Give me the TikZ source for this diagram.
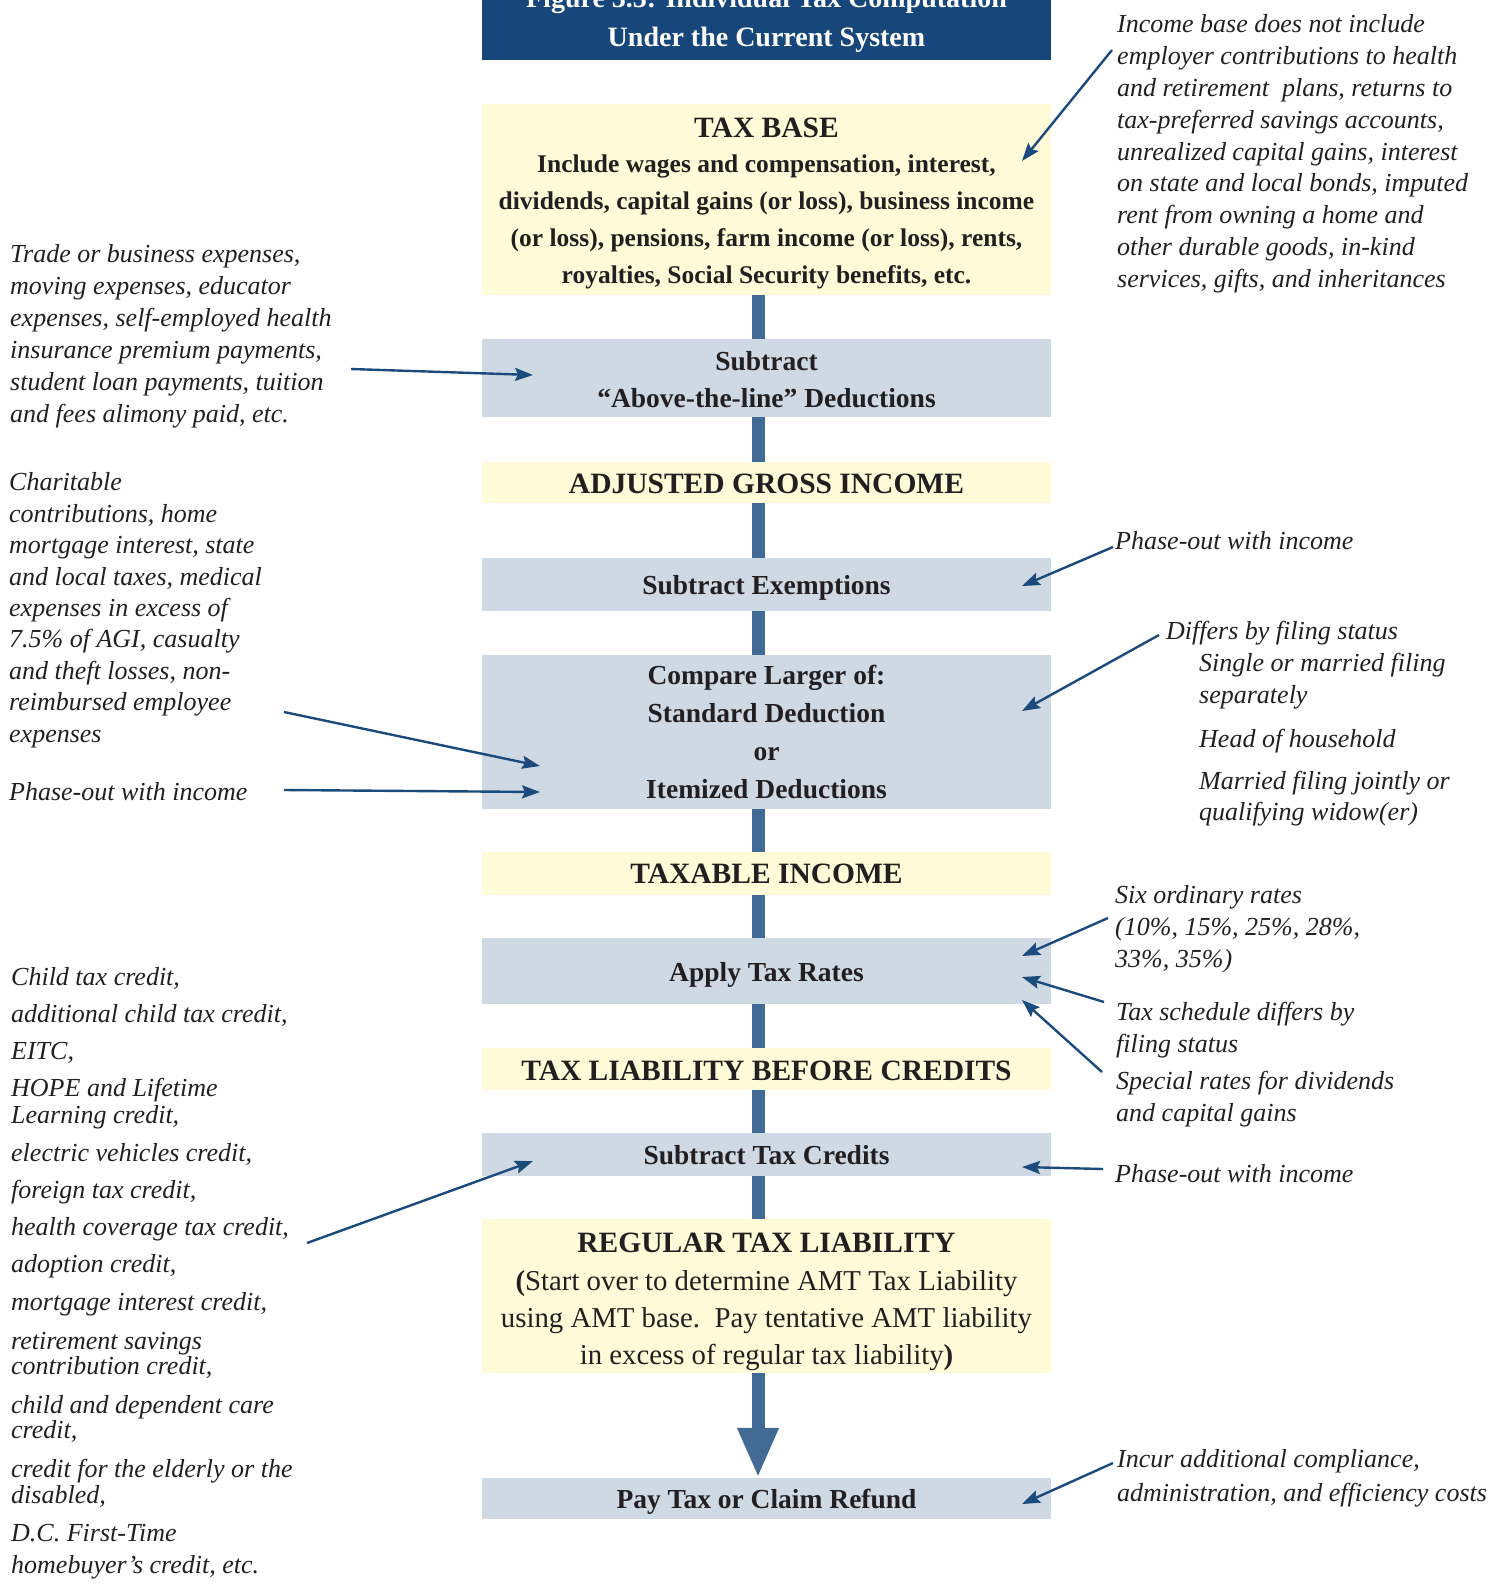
\documentclass[tikz,border=0pt]{standalone}
\usepackage{fontspec}
\setmainfont{Liberation Serif}
\usetikzlibrary{arrows.meta}
\definecolor{titleblue}{RGB}{22,70,122}
\definecolor{greybox}{RGB}{207,217,228}
\definecolor{yellowbox}{RGB}{255,250,215}
\definecolor{barblue}{RGB}{66,106,148}
\definecolor{arrowblue}{RGB}{27,74,124}
\definecolor{ink}{RGB}{35,31,32}
\begin{document}
\begin{tikzpicture}[x=1pt,y=-1pt,
  box/.style={draw=none,inner sep=0pt,minimum width=569pt},
  ybox/.style={box,fill=yellowbox},
  gbox/.style={box,fill=greybox},
  tbox/.style={box,fill=titleblue},
  ttl/.style={inner sep=0pt,anchor=base,text=white,font=\fontsize{28}{32}\selectfont\bfseries},
  hdr/.style={inner sep=0pt,anchor=base,text=ink,font=\fontsize{29.5}{32}\selectfont\bfseries},
  stp/.style={inner sep=0pt,anchor=base,text=ink,font=\fontsize{27.5}{32}\selectfont\bfseries},
  bdy/.style={inner sep=0pt,anchor=base,text=ink,font=\fontsize{25.5}{32}\selectfont\bfseries},
  rbody/.style={inner sep=0pt,anchor=base,text=ink,font=\fontsize{28.8}{32}\selectfont},
  ann/.style={inner sep=0pt,anchor=base west,text=ink,font=\fontsize{26}{32}\selectfont\itshape},
  bar/.style={draw=barblue,line width=13pt},
  bigarrow/.style={draw=barblue,fill=barblue,line width=13pt,-{Triangle[length=50pt,width=38pt]}},
  pointer/.style={draw=arrowblue,line width=2.4pt,-{Stealth[length=18pt,width=13pt,inset=3pt]}},
]
\useasboundingbox (0,0) rectangle (1502,1585);
\clip (0,0) rectangle (1502,1585);

% ---------- boxes ----------
\node[tbox,minimum height=80pt] (title) at (766.5,20) {};
\node[ybox,minimum height=191pt] (tb)  at (766.5,199.5) {};
\node[gbox,minimum height=78pt]  (sub) at (766.5,378) {};
\node[ybox,minimum height=41pt]  (agi) at (766.5,482.5) {};
\node[gbox,minimum height=53pt]  (ex)  at (766.5,584.5) {};
\node[gbox,minimum height=154pt] (cmp) at (766.5,732) {};
\node[ybox,minimum height=43pt]  (ti)  at (766.5,873.5) {};
\node[gbox,minimum height=66pt]  (atr) at (766.5,971) {};
\node[ybox,minimum height=42pt]  (tlb) at (766.5,1069) {};
\node[gbox,minimum height=43pt]  (stc) at (766.5,1154.5) {};
\node[ybox,minimum height=154pt] (rtl) at (766.5,1296) {};
\node[gbox,minimum height=41pt]  (pay) at (766.5,1498.5) {};

% ---------- connectors ----------
\draw[bar] ([xshift=-8.5pt]tb.south)  -- ([xshift=-8.5pt]sub.north);
\draw[bar] ([xshift=-8.5pt]sub.south) -- ([xshift=-8.5pt]agi.north);
\draw[bar] ([xshift=-8.5pt]agi.south) -- ([xshift=-8.5pt]ex.north);
\draw[bar] ([xshift=-8.5pt]ex.south)  -- ([xshift=-8.5pt]cmp.north);
\draw[bar] ([xshift=-8.5pt]cmp.south) -- ([xshift=-8.5pt]ti.north);
\draw[bar] ([xshift=-8.5pt]ti.south)  -- ([xshift=-8.5pt]atr.north);
\draw[bar] ([xshift=-8.5pt]atr.south) -- ([xshift=-8.5pt]tlb.north);
\draw[bar] ([xshift=-8.5pt]tlb.south) -- ([xshift=-8.5pt]stc.north);
\draw[bar] ([xshift=-8.5pt]stc.south) -- ([xshift=-8.5pt]rtl.north);
\draw[bigarrow] ([xshift=-8.5pt]rtl.south) -- ([xshift=-8.5pt]pay.north);

% ---------- box texts ----------
\node[ttl] (t1) at (766.5,7) {Figure 3.3: Individual Tax Computation};
\node[ttl] (t2) at (766.5,46) {Under the Current System};

\node[hdr] (tb0) at (766.5,137) {TAX BASE};
\node[bdy] (tb1) at (766.5,172) {Include wages and compensation, interest,};
\node[bdy] (tb2) at (766.5,209) {dividends, capital gains (or loss), business income};
\node[bdy] (tb3) at (766.5,246) {(or loss), pensions, farm income (or loss), rents,};
\node[bdy] (tb4) at (766.5,283) {royalties, Social Security benefits, etc.};

\node[stp] (sub1) at (766.5,370) {Subtract};
\node[stp] (sub2) at (766.5,407) {“Above-the-line” Deductions};

\node[hdr] (agit) at (766.5,493) {ADJUSTED GROSS INCOME};

\node[stp] (ext) at (766.5,594) {Subtract Exemptions};

\node[stp] (cmp1) at (766.5,684) {Compare Larger of:};
\node[stp] (cmp2) at (766.5,722) {Standard Deduction};
\node[stp] (cmp3) at (766.5,760) {or};
\node[stp] (cmp4) at (766.5,798) {Itemized Deductions};

\node[hdr] (tit) at (766.5,883) {TAXABLE INCOME};
\node[stp] (atrt) at (766.5,981) {Apply Tax Rates};
\node[hdr] (tlbt) at (766.5,1080) {TAX LIABILITY BEFORE CREDITS};
\node[stp] (stct) at (766.5,1164) {Subtract Tax Credits};

\node[hdr] (rtl0) at (766.5,1252) {REGULAR TAX LIABILITY};
\node[rbody] (rtl1) at (766.5,1290) {{\bfseries(}Start over to determine AMT Tax Liability};
\node[rbody] (rtl2) at (766.5,1327) {using AMT base.\ \ Pay tentative AMT liability};
\node[rbody] (rtl3) at (766.5,1364) {in excess of regular tax liability{\bfseries)}};

\node[stp] (payt) at (766.5,1508) {Pay Tax or Claim Refund};

% ---------- right annotations ----------
\foreach \yy/\tx [count=\i] in {32/{Income base does not include},
  64/{employer contributions to health},
  96/{and retirement\ \ plans, returns to},
  128/{tax-preferred savings accounts,},
  160/{unrealized capital gains, interest},
  191/{on state and local bonds, imputed},
  223/{rent from owning a home and},
  255/{other durable goods, in-kind},
  287/{services, gifts, and inheritances}}
  \node[ann] (ra\i) at (1117,\yy) {\tx};

\node[ann] (rb1) at (1115,549) {Phase-out with income};
\node[ann] (rc1) at (1166,639) {Differs by filing status};
\node[ann] (rc2) at (1199,671) {Single or married filing};
\node[ann] (rc3) at (1199,703) {separately};
\node[ann] (rc4) at (1199,747) {Head of household};
\node[ann] (rc5) at (1199,789) {Married filing jointly or};
\node[ann] (rc6) at (1199,820) {qualifying widow(er)};

\node[ann] (rd1) at (1115,903) {Six ordinary rates};
\node[ann] (rd2) at (1115,935) {(10\%, 15\%, 25\%, 28\%,};
\node[ann] (rd3) at (1115,967) {33\%, 35\%)};
\node[ann] (re1) at (1116,1020) {Tax schedule differs by};
\node[ann] (re2) at (1116,1052) {filing status};
\node[ann] (rf1) at (1116,1089) {Special rates for dividends};
\node[ann] (rf2) at (1116,1121) {and capital gains};
\node[ann] (rg1) at (1115,1182) {Phase-out with income};
\node[ann] (rh1) at (1117,1467) {Incur additional compliance,};
\node[ann] (rh2) at (1117,1501) {administration, and efficiency costs};

% ---------- left annotations ----------
\foreach \yy/\tx [count=\i] in {262/{Trade or business expenses,},
  294/{moving expenses, educator},
  326/{expenses, self-employed health},
  358/{insurance premium payments,},
  390/{student loan payments, tuition},
  422/{and fees alimony paid, etc.}}
  \node[ann] (la\i) at (10,\yy) {\tx};

\foreach \yy/\tx [count=\i] in {490/{Charitable},
  522/{contributions, home},
  553/{mortgage interest, state},
  585/{and local taxes, medical},
  616/{expenses in excess of},
  647/{7.5\% of AGI, casualty},
  679/{and theft losses, non-},
  710/{reimbursed employee},
  742/{expenses}}
  \node[ann] (lb\i) at (9,\yy) {\tx};
\node[ann] (lc1) at (9,800) {Phase-out with income};

\foreach \yy/\tx [count=\i] in {985/{Child tax credit,},
  1022/{additional child tax credit,},
  1059/{EITC,},
  1096/{HOPE and Lifetime},
  1123/{Learning credit,},
  1161/{electric vehicles credit,},
  1198/{foreign tax credit,},
  1235/{health coverage tax credit,},
  1272/{adoption credit,},
  1310/{mortgage interest credit,},
  1349/{retirement savings},
  1374/{contribution credit,},
  1413/{child and dependent care},
  1438/{credit,},
  1477/{credit for the elderly or the},
  1503/{disabled,},
  1541/{D.C. First-Time},
  1573/{homebuyer’s credit, etc.}}
  \node[ann] (ld\i) at (11,\yy) {\tx};

% ---------- pointer arrows ----------
\coordinate (pAs) at (1112,50);   \coordinate (pAe) at (1022,161);
\coordinate (pBs) at (351,369);   \coordinate (pBe) at (533,375);
\coordinate (pCs) at (1113,547);  \coordinate (pCe) at (1022,586);
\coordinate (pDs) at (1159,635);  \coordinate (pDe) at (1022,711);
\coordinate (pEs) at (284,712);   \coordinate (pEe) at (540,766);
\coordinate (pFs) at (284,790);   \coordinate (pFe) at (540,792);
\coordinate (pGs) at (1108,918);  \coordinate (pGe) at (1022,956);
\coordinate (pHs) at (1104,1002); \coordinate (pHe) at (1022,977);
\coordinate (pIs) at (1102,1072); \coordinate (pIe) at (1022,1000);
\coordinate (pJs) at (307,1243);  \coordinate (pJe) at (533,1161);
\coordinate (pKs) at (1103,1169); \coordinate (pKe) at (1022,1167);
\coordinate (pLs) at (1113,1463); \coordinate (pLe) at (1022,1504);
\foreach \p in {A,B,C,D,E,F,G,H,I,J,K,L}
  \draw[pointer] (p\p s) -- (p\p e);
\end{tikzpicture}
\end{document}
